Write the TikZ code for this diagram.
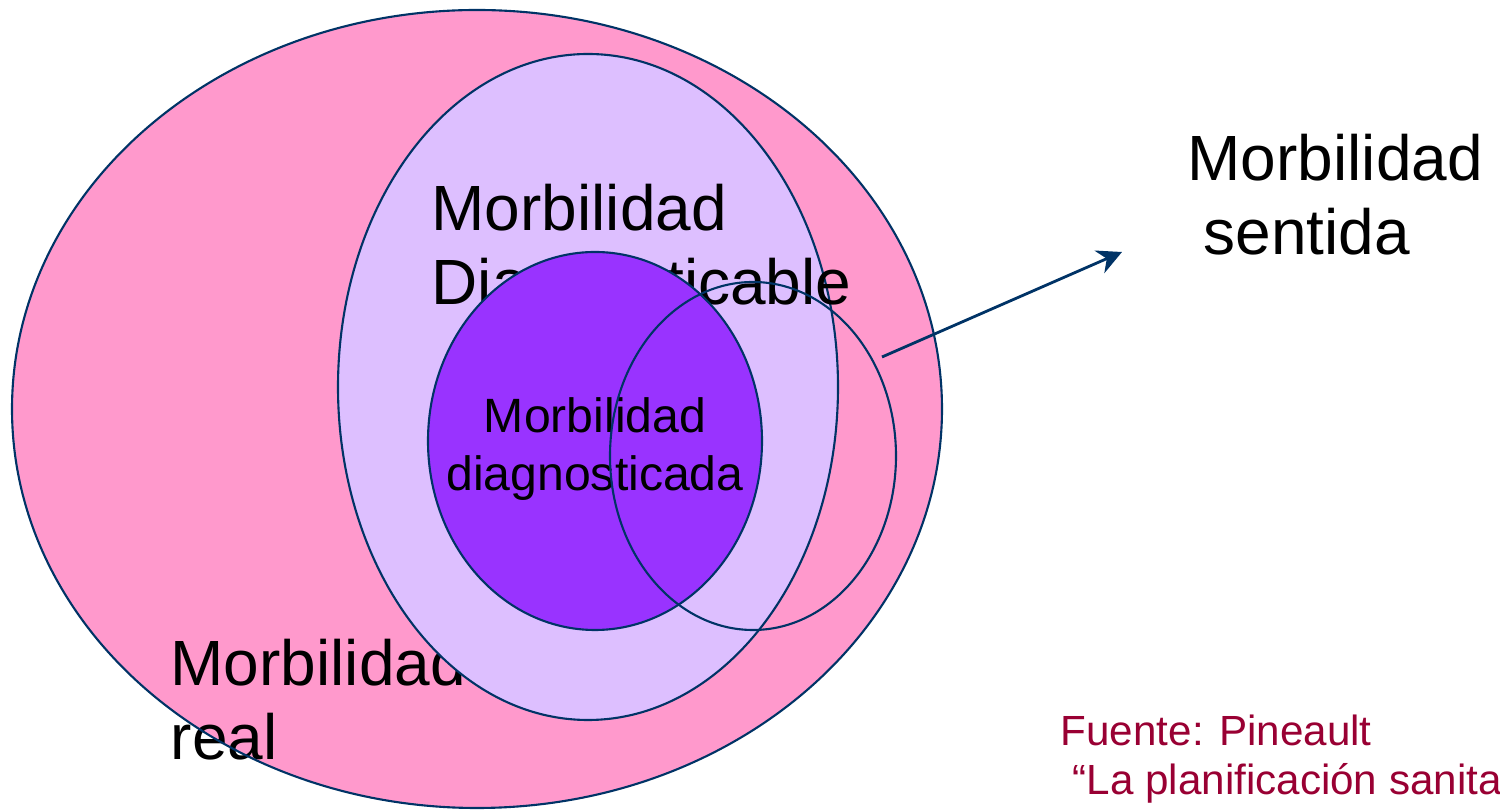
\documentclass[tikz,border=0pt]{standalone}
\usepackage{fontspec}
\setmainfont{Liberation Sans}
\usetikzlibrary{arrows.meta}
\definecolor{rosa}{HTML}{FF99CC}
\definecolor{lila}{HTML}{DDBFFF}
\definecolor{morado}{HTML}{9933FF}
\definecolor{borde}{HTML}{003366}
\definecolor{fuente}{HTML}{990033}
\tikzset{
	conjunto/.style={ draw=borde, line width=0.6pt },
	grande/.style={ font=\fontsize{18.2}{21.3}\selectfont, align=left, anchor=base west, inner sep=0pt },
	chico/.style={ font=\fontsize{13.7}{16.5}\selectfont, align=center, inner sep=0pt },
	nota/.style={ font=\fontsize{12}{14.2}\selectfont, text=fuente, align=left, anchor=base west, inner sep=0pt }
}
\begin{document}
\begin{tikzpicture}
	  \useasboundingbox (0,0) rectangle (15,8.11);

	  \fill [ rosa ] (4.77,4.02) ellipse [ x radius=4.65, y radius=3.99 ];
	  \node [ grande ] (real) at (1.70,0.51) { Morbilidad\\real };
	  \draw [ conjunto ] (4.77,4.02) ellipse [ x radius=4.65, y radius=3.99 ];

	  \draw [ conjunto, fill=lila ] (5.88,4.24) ellipse [ x radius=2.50, y radius=3.33 ];
	  \node [ grande ] (diagnosticable) at (4.31,5.06) { Morbilidad\\Diagnosticable };

	  \draw [ conjunto, fill=morado ] (5.95,3.70) ellipse [ x radius=1.67, y radius=1.89 ];
	  \node [ chico ] (diagnosticada) at (5.95,3.62) { Morbilidad\\diagnosticada };

	  \draw [ conjunto ] (7.53,3.55) ellipse [ x radius=1.43, y radius=1.74 ];

	  \node [ grande ] (sentida) at (11.87,5.56) { Morbilidad\\\hspace{0.16cm}sentida };

	  \coordinate (desde) at (8.82,4.54);
	  \coordinate (hasta) at (11.22,5.59);
	  \draw [ draw=borde, line width=0.8pt, -{Stealth[length=7pt,width=7pt]} ] (desde)--(hasta);

	  \node [ nota ] (cita) at (10.60,0.16) { Fuente: Pineault\\\hspace{0.12cm}“La planificación sanita };
	\end{tikzpicture}
\end{document}
